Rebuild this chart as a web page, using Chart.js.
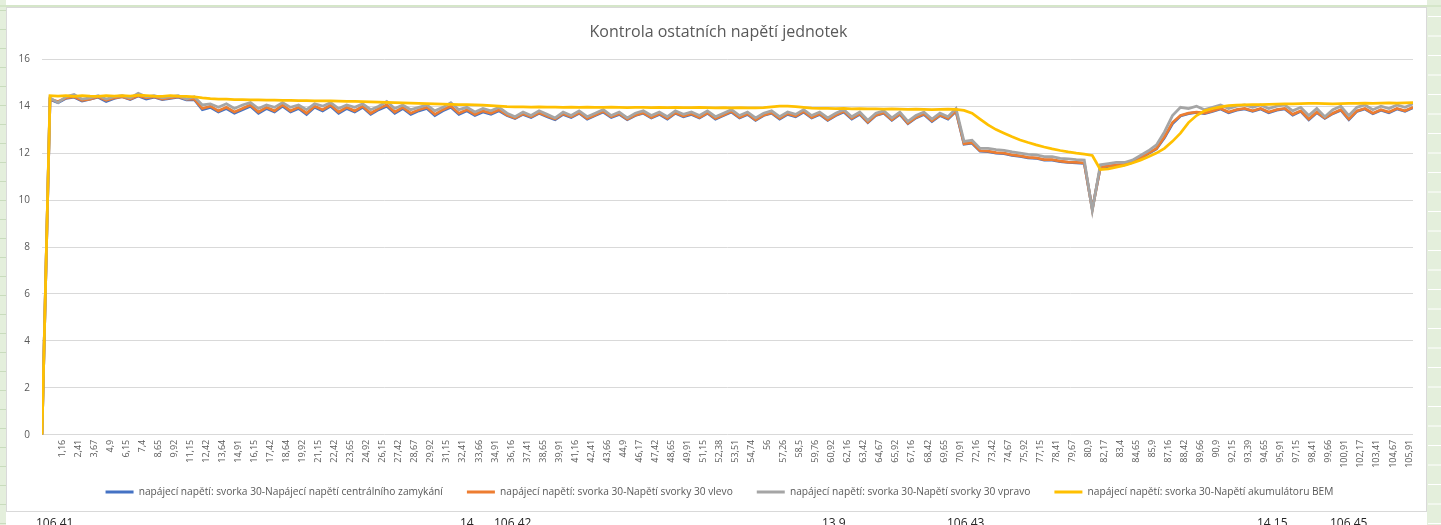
<!DOCTYPE html>
<html><head><meta charset="utf-8">
<script src="https://cdn.jsdelivr.net/npm/chart.js@4.4.0/dist/chart.umd.min.js"></script>
<style>
html,body{margin:0;padding:0;background:#fff;}
canvas{display:block;}
</style></head><body>
<canvas id="c" width="1441" height="525"></canvas>
<script>
const chartTitle = 'Kontrola ostatních napětí jednotek';
const seriesNames = [
  'napájecí napětí: svorka 30-Napájecí napětí centrálního zamykání',
  'napájecí napětí: svorka 30-Napětí svorky 30 vlevo',
  'napájecí napětí: svorka 30-Napětí svorky 30 vpravo',
  'napájecí napětí: svorka 30-Napětí akumulátoru BEM'
];
const seriesColors = ['#4472C4', '#ED7D31', '#A5A5A5', '#FFC000'];

const tickLabels = ['1,16','2,41','3,67','4,9','6,15','7,4','8,65','9,92','11,15','12,42','13,64','14,91','16,15','17,42','18,64','19,92','21,15','22,42','23,65','24,92','26,15','27,42','28,67','29,92','31,15','32,41','33,66','34,91','36,16','37,41','38,65','39,91','41,16','42,41','43,66','44,9','46,17','47,42','48,65','49,91','51,15','52,38','53,51','54,74','56','57,26','58,5','59,76','60,92','62,16','63,42','64,67','65,92','67,16','68,42','69,65','70,91','72,16','73,42','74,67','75,92','77,15','78,41','79,67','80,9','82,17','83,4','84,65','85,9','87,16','88,42','89,66','90,9','92,15','93,39','94,65','95,91','97,15','98,41','99,66','100,91','102,17','103,41','104,67','105,91'];

const centralLocking = [0,
14.28,14.15,14.33,14.38,14.22,14.3,14.38,14.2,14.33,14.4,14.28,14.43,14.3,14.38,14.28,14.33,14.38,14.27,14.28,
13.85,13.95,13.75,13.9,13.7,13.85,14.0,13.7,13.9,13.75,14.0,13.75,13.9,13.65,13.95,13.8,14.0,13.7,13.9,13.75,13.95,13.65,13.85,14.0,13.7,13.9,13.65,13.8,13.9,13.6,13.8,13.95,13.65,13.8,13.6,13.75,13.65,13.8,
13.6,13.47,13.65,13.52,13.7,13.55,13.42,13.65,13.52,13.7,13.45,13.6,13.75,13.52,13.65,13.42,13.6,13.7,13.5,13.65,13.45,13.7,13.55,13.65,13.5,13.7,13.45,13.6,13.75,13.5,13.65,13.4,13.6,13.7,13.45,13.65,13.55,13.75,13.5,13.65,13.4,13.6,13.75,13.45,13.65,13.3,13.6,13.7,13.4,13.65,13.25,13.5,13.65,13.35,13.6,13.45,
13.78,
12.38,12.42,12.08,12.06,12.0,11.98,11.9,11.86,11.8,11.78,11.7,11.7,11.64,11.6,11.58,11.56,
9.62,
11.38,11.43,11.48,11.5,11.6,11.78,11.98,12.18,12.65,13.25,13.58,13.68,13.73,13.68,
13.78,13.88,13.72,13.83,13.88,13.78,13.88,13.72,13.83,13.88,13.62,13.78,13.42,13.72,13.48,13.68,13.83,13.42,13.78,13.88,13.68,13.83,13.72,13.88,13.78,13.93];

const leftTerminal = [0,
14.3,14.2,14.35,14.4,14.25,14.3,14.4,14.25,14.35,14.4,14.3,14.45,14.35,14.4,14.3,14.35,14.4,14.3,14.3,
13.9,14.0,13.8,13.95,13.75,13.9,14.05,13.75,13.95,13.8,14.05,13.8,13.95,13.7,14.0,13.85,14.05,13.75,13.95,13.8,14.0,13.7,13.9,14.05,13.75,13.95,13.7,13.85,13.95,13.65,13.85,14.0,13.7,13.85,13.65,13.8,13.7,13.85,
13.62,13.5,13.68,13.55,13.72,13.58,13.45,13.68,13.55,13.72,13.48,13.62,13.78,13.55,13.68,13.45,13.62,13.72,13.52,13.68,13.48,13.72,13.58,13.68,13.52,13.72,13.48,13.62,13.78,13.52,13.68,13.42,13.62,13.72,13.48,13.68,13.58,13.78,13.52,13.68,13.42,13.62,13.78,13.48,13.68,13.32,13.62,13.72,13.42,13.68,13.28,13.52,13.68,13.38,13.62,13.48,
13.8,
12.4,12.45,12.1,12.08,12.02,12.0,11.92,11.88,11.82,11.8,11.72,11.72,11.66,11.62,11.6,11.58,
9.6,
11.4,11.45,11.5,11.52,11.62,11.8,12.0,12.2,12.7,13.3,13.6,13.7,13.75,13.7,
13.8,13.9,13.75,13.85,13.9,13.8,13.9,13.75,13.85,13.9,13.65,13.8,13.45,13.75,13.5,13.7,13.85,13.45,13.8,13.9,13.7,13.85,13.75,13.9,13.8,13.95];

const rightTerminal = [0,
14.35,14.15,14.4,14.5,14.3,14.35,14.45,14.3,14.4,14.45,14.35,14.55,14.4,14.45,14.35,14.4,14.45,14.3,14.4,
14.05,14.1,13.95,14.1,13.9,14.05,14.15,13.9,14.05,13.95,14.15,13.95,14.05,13.85,14.1,14.0,14.15,13.9,14.05,13.95,14.1,13.85,14.0,14.2,13.9,14.05,13.85,13.95,14.05,13.8,13.95,14.15,13.85,13.95,13.75,13.9,13.8,13.95,
13.7,13.55,13.75,13.6,13.8,13.65,13.5,13.75,13.6,13.8,13.55,13.7,13.85,13.6,13.75,13.5,13.7,13.8,13.6,13.75,13.55,13.8,13.65,13.75,13.6,13.8,13.55,13.7,13.85,13.6,13.75,13.5,13.7,13.8,13.55,13.75,13.65,13.85,13.6,13.75,13.5,13.7,13.85,13.55,13.75,13.4,13.7,13.8,13.5,13.75,13.35,13.6,13.75,13.45,13.7,13.55,
13.9,
12.5,12.55,12.2,12.2,12.15,12.12,12.05,12.0,11.95,11.92,11.85,11.85,11.78,11.75,11.72,11.7,
9.55,
11.5,11.55,11.6,11.6,11.7,11.9,12.1,12.35,12.9,13.6,13.95,13.9,14.0,13.85,
13.95,14.05,13.9,14.0,14.05,13.95,14.05,13.9,14.0,14.05,13.8,13.95,13.6,13.9,13.55,13.85,14.0,13.6,13.95,14.05,13.85,14.0,13.9,14.05,13.95,14.1];

const batteryBEM = [0,
14.45,14.43,14.45,14.42,14.45,14.43,14.42,14.45,14.43,14.45,14.43,14.47,14.45,14.43,14.42,14.45,14.43,14.42,14.4,
14.35,14.32,14.3,14.3,14.28,14.28,14.27,14.27,14.26,14.26,14.25,14.25,14.24,14.24,14.23,14.22,14.22,14.21,14.2,14.2,14.19,14.18,14.17,14.16,14.15,14.14,14.13,14.12,14.11,14.1,14.09,14.08,14.07,14.06,14.05,14.04,14.02,14.0,
13.98,13.97,13.97,13.96,13.97,13.96,13.96,13.95,13.96,13.95,13.96,13.95,13.95,13.96,13.95,13.94,13.95,13.95,13.94,13.95,13.94,13.95,13.94,13.94,13.95,13.94,13.93,13.94,13.93,13.94,13.93,13.93,13.94,13.97,14.0,14.0,13.98,13.95,13.92,13.9,13.9,13.89,13.9,13.88,13.89,13.88,13.88,13.87,13.88,13.87,13.86,13.87,13.86,13.85,13.86,13.87,
13.86,
13.82,13.7,13.45,13.2,13.0,12.85,12.7,12.56,12.45,12.35,12.26,12.18,12.11,12.05,12.0,11.96,
11.9,
11.3,11.33,11.4,11.48,11.58,11.7,11.84,12.0,12.2,12.5,12.85,13.3,13.6,13.8,13.9,13.97,14.02,
14.04,14.05,14.06,14.07,14.08,14.09,14.1,14.1,14.11,14.12,14.12,14.11,14.1,14.11,14.12,14.12,14.13,14.12,14.13,14.14,14.13,14.14,14.15];

const yMin = 0, yMax = 16, yStep = 2;
const sheetCellTexts = ['106,41','14','106,42','13,9','106,43','14,15','106,45'];
const sheetCellX = [36, 460, 494, 822, 947, 1257, 1330];

const allSeries = [centralLocking, leftTerminal, rightTerminal, batteryBEM];
const FONT = 'Open Sans';

const sheetPlugin = {
  id: 'sheet',
  beforeDraw(chart) {
    const ctx = chart.ctx, W = chart.width, H = chart.height;
    ctx.save();
    ctx.fillStyle = '#ffffff';
    ctx.fillRect(0, 0, W, H);
    ctx.fillStyle = '#e4efdc';
    ctx.fillRect(0, 0, 6, H);
    ctx.fillRect(1427, 0, W - 1427, H);
    ctx.strokeStyle = '#c9dcbd';
    ctx.lineWidth = 1;
    for (let y = 10; y < H; y += 19) {
      ctx.beginPath(); ctx.moveTo(0, y + 0.5); ctx.lineTo(6, y + 0.5); ctx.stroke();
    }
    ctx.strokeStyle = '#ffffff';
    for (let y = 16; y < H; y += 19.5) {
      ctx.beginPath(); ctx.moveTo(1428, y + 0.5); ctx.lineTo(W, y + 0.5); ctx.stroke();
    }
    ctx.fillStyle = '#d5e6c9';
    ctx.fillRect(0, 5, W, 2);
    ctx.fillStyle = '#ffffff';
    ctx.fillRect(6, 7, 1421, 505);
    ctx.strokeStyle = '#d9d9d9';
    ctx.strokeRect(6.5, 7.5, 1420, 504);
    ctx.fillStyle = '#262626';
    ctx.font = '12px "' + FONT + '"';
    ctx.textBaseline = 'alphabetic';
    sheetCellTexts.forEach((t, i) => ctx.fillText(t, sheetCellX[i], 527));
    ctx.restore();
  }
};

// nudge title and legend: legend row lifted (large padding is for item spacing), both centred on the frame
const blockNudge = {
  id: 'blockNudge',
  afterLayout(chart) {
    const l = chart.legend;
    if (l) {
      l.top -= 14; l.bottom -= 14;
      l.left += 9; l.right += 9;
      if (l.legendHitBoxes) l.legendHitBoxes.forEach(h => { h.top -= 14; h.left += 9; });
    }
    const t = chart.titleBlock;
    if (t) { t.left += 8; t.right += 8; }
  }
};

new Chart(document.getElementById('c'), {
  type: 'line',
  data: {
    datasets: allSeries.map((arr, s) => ({
      label: seriesNames[s],
      data: arr.map((v, i) => ({x: i, y: v})),
      borderColor: seriesColors[s],
      backgroundColor: seriesColors[s],
      borderWidth: 2.75,
      pointRadius: 0,
      tension: 0,
      fill: false,
      order: 3 - s
    }))
  },
  options: {
    responsive: false,
    animation: false,
    devicePixelRatio: 1,
    layout: {padding: {left: 8, right: 28, top: 8, bottom: 4}},
    plugins: {
      title: {
        display: true,
        text: chartTitle,
        color: '#595959',
        font: {family: FONT, size: 16, weight: 'normal'},
        padding: {top: 15, bottom: 17}
      },
      legend: {
        position: 'bottom',
        align: 'center',
        labels: {
          boxWidth: 28,
          boxHeight: 3,
          padding: 24,
          color: '#595959',
          font: {family: FONT, size: 10.2},
          sort: (a, b) => a.datasetIndex - b.datasetIndex,
          generateLabels(chart) {
            const items = Chart.defaults.plugins.legend.labels.generateLabels(chart);
            items.forEach(it => { it.lineWidth = 0; });
            return items;
          }
        }
      },
      tooltip: {enabled: false}
    },
    scales: {
      x: {
        type: 'linear',
        min: 0,
        max: allSeries[0].length - 1,
        grid: {display: false, drawTicks: false},
        border: {display: false},
        ticks: {
          autoSkip: false,
          minRotation: 90,
          maxRotation: 90,
          padding: 5,
          color: '#595959',
          font: {family: FONT, size: 9},
          callback: (v, i) => tickLabels[i]
        },
        afterBuildTicks(scale) {
          scale.ticks = tickLabels.map((_, k) => ({value: 2.5 + 2 * k}));
        },
        afterFit(scale) { scale.height = 42; }
      },
      y: {
        min: yMin,
        max: yMax,
        grid: {color: '#d9d9d9', drawTicks: false, lineWidth: 1},
        border: {display: false},
        ticks: {
          stepSize: yStep,
          padding: 12,
          color: '#595959',
          font: {family: FONT, size: 10}
        },
        afterFit(scale) { scale.width = 34; }
      }
    }
  },
  plugins: [sheetPlugin, blockNudge]
});
</script>
</body></html>
